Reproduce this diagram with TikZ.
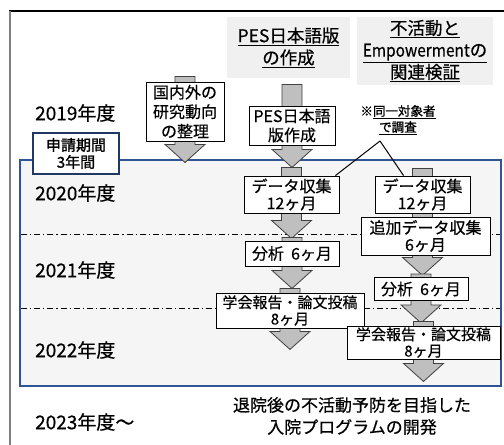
\documentclass[tikz,border=0pt]{standalone}
\usepackage{fontspec}
\usepackage{graphicx}
\setmainfont{Noto Sans CJK JP}[FakeBold=0.5]
\newfontfamily\jpfb[FakeBold=1.4]{Noto Sans CJK JP}
\usetikzlibrary{calc}
\definecolor{framblue}{HTML}{2F5597}
\definecolor{navyb}{HTML}{1F3864}
\definecolor{boxfill}{HTML}{F5F5F5}
\definecolor{hdrfill}{HTML}{F0F0F0}
\definecolor{arrfill}{HTML}{BFBFBF}
\definecolor{arredge}{HTML}{404040}
\definecolor{leftgray}{HTML}{808080}
\pgfdeclarelayer{framelayer}
\pgfdeclarelayer{arrowlayer}
\pgfsetlayers{framelayer,arrowlayer,main}
\newcommand\garrow[4]{%
  \coordinate (gt) at ($(#1.north)+(0,-#2)$);
  \coordinate (gb) at ($(#3.south)+(0,#4)$);
  \coordinate (gc) at (gt |- gb);
  \draw[garr] ($(gt)+(-10,0)$) -- ($(gt)+(10,0)$) -- ($(gc)+(10,-18)$) -- ($(gc)+(20,-18)$) -- (gc) -- ($(gc)+(-20,-18)$) -- ($(gc)+(-10,-18)$) -- cycle;}
\begin{document}
\begin{tikzpicture}[x=1pt,y=-1pt,
  task/.style={draw=black,line width=0.9pt,fill=white,inner sep=0pt,align=center,font=\fontsize{16}{17}\selectfont},
  hdr/.style={fill=hdrfill,inner sep=0pt,align=center,font=\fontsize{17.5}{22}\selectfont},
  year/.style={anchor=west,inner sep=0pt,font=\fontsize{19}{20}\selectfont},
  garr/.style={fill=arrfill,draw=arredge,line width=0.8pt,line join=miter},
  ddline/.style={line width=0.7pt,dash pattern=on 6pt off 3pt on 1.2pt off 3pt},
  noteline/.style={line width=1pt}]
\useasboundingbox (0,0) rectangle (504,445);

% outer frame remnants
\draw[black,line width=1.3pt] (9,11) -- (504,11);
\draw[leftgray,line width=2pt] (9.5,11) -- (9.5,445);

% headers
\node[hdr,minimum width=123,minimum height=61] (h1) at (288.5,47.5) {\underline{PES日本語版}\\\underline{の作成}};
\node[hdr,minimum width=136,minimum height=68] (h2) at (425,51) {\underline{不活動と}\\\underline{\scalebox{0.88}[1]{Empowerment}の}\\\underline{関連検証}};

% application period frame
\begin{pgfonlayer}{framelayer}
\draw[framblue,line width=2.2pt,fill=boxfill] (20,160) rectangle (501,386);
\draw[ddline] (21,234) -- (500,234);
\draw[ddline] (21,308) -- (500,308);
\end{pgfonlayer}

\node[draw=navyb,line width=2.5pt,fill=white,inner sep=0pt,minimum width=86,minimum height=41,align=center,font=\fontsize{15}{17}\selectfont\jpfb] (period) at (76,153.5) {申請期間\\3年間};

% year labels
\node[year] (y2019) at (35,113) {2019年度};
\node[year] (y2020) at (35,193) {2020年度};
\node[year] (y2021) at (35,270) {2021年度};
\node[year] (y2022) at (35,350) {2022年度};
\node[year] (y2023) at (35,422) {2023年度〜};

% tasks
\node[task,minimum width=78,minimum height=59,font=\fontsize{16}{19.5}\selectfont] (t1) at (185,111.5) {国内外の\\研究動向\\の整理};
\node[task,minimum width=86,minimum height=39,font=\fontsize{16}{19}\selectfont] (pes) at (292,125.5) {PES日本語\\版作成};
\node[task,minimum width=95,minimum height=37] (d1) at (291.5,194.5) {データ収集\\12ヶ月};
\node[task,minimum width=94,minimum height=25] (a1) at (292,253.5) {分析\hspace{0.45em}6ヶ月};
\node[task,minimum width=148,minimum height=35,font=\fontsize{15}{16.5}\selectfont] (p1) at (290,310.5) {学会報告・論文投稿\\8ヶ月};
\node[task,minimum width=95,minimum height=37] (d2) at (422.5,194.5) {データ収集\\12ヶ月};
\node[task,minimum width=129,minimum height=38] (add) at (425.5,236) {追加データ収集\\6ヶ月};
\node[task,minimum width=94,minimum height=23] (a2) at (421,289) {分析\hspace{0.45em}6ヶ月};
\node[task,minimum width=153,minimum height=33,font=\fontsize{15}{16.5}\selectfont] (p2) at (423.5,342.5) {学会報告・論文投稿\\8ヶ月};

% block arrows
\begin{pgfonlayer}{arrowlayer}
\garrow{t1}{5}{t1}{21}
\garrow{pes}{21}{pes}{22}
\garrow{d1}{8}{d1}{25}
\garrow{a1}{3}{a1}{22}
\garrow{p1}{4}{p1}{21}
\garrow{d2}{7}{add}{20}
\garrow{a2}{3}{a2}{22}
\garrow{p2}{4}{p2}{22}
\end{pgfonlayer}

% same-subject note
\node[inner sep=0pt,align=center,font=\fontsize{12.5}{16}\selectfont\jpfb] (note) at (398,120) {※\underline{同一対象者}\\\underline{で調査}};
\coordinate (apex) at (380,141);
\draw[noteline] (apex) -- ($(d1.north east)+(-4,0)$);
\draw[noteline] (apex) -- ($(d2.north west)+(29,0)$);

% goal
\node[inner sep=0pt,align=center,font=\fontsize{17}{22}\selectfont] (goal) at (352,416) {退院後の不活動予防を目指した\\入院プログラムの開発};
\end{tikzpicture}
\end{document}
